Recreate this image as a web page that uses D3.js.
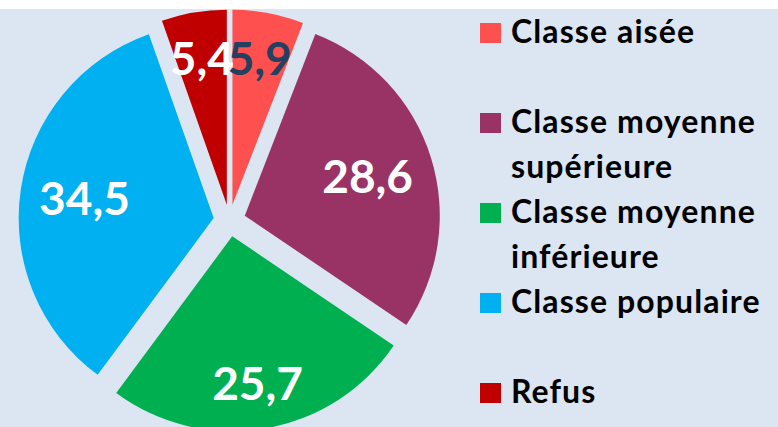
<!DOCTYPE html>
<html><head><meta charset="utf-8">
<script src="https://cdn.jsdelivr.net/npm/d3@7"></script>
<style>body{margin:0;background:#fff}svg{display:block}</style>
</head><body>
<svg id="chart" width="778" height="427"></svg>
<script>
const categories = ["Classe aisée", "Classe moyenne supérieure", "Classe moyenne inférieure", "Classe populaire", "Refus"];
const values = [5.9, 28.6, 25.7, 34.5, 5.4];
const valueLabels = ["5,9", "28,6", "25,7", "34,5", "5,4"];
const legendLines = [["Classe aisée"], ["Classe moyenne", "supérieure"], ["Classe moyenne", "inférieure"], ["Classe populaire"], ["Refus"]];

const colors = ["#ff5050", "#993366", "#00b050", "#00b0f0", "#c00000"];
const labelColors = ["#243f60", "#fff", "#fff", "#fff", "#fff"];
const labelRadiusFactor = [0.76, 0.66, 0.77, 0.67, 0.76];

const svg = d3.select("#chart");
svg.append("rect").attr("x", 0).attr("y", 9).attr("width", 778).attr("height", 418).attr("fill", "#dce6f2");

const cx = 229.5, cy = 220.5, R = 195, explode = 16;
const pie = d3.pie().sort(null).value(d => d)(values);
const arc = d3.arc().innerRadius(0).outerRadius(R);
const g = svg.append("g").attr("transform", `translate(${cx},${cy})`);

pie.forEach((p, i) => {
  const mid = (p.startAngle + p.endAngle) / 2;
  const dx = explode * Math.sin(mid), dy = -explode * Math.cos(mid);
  const sg = g.append("g").attr("transform", `translate(${dx},${dy})`);
  sg.append("path").attr("d", arc(p)).attr("fill", colors[i]);
});
pie.forEach((p, i) => {
  const mid = (p.startAngle + p.endAngle) / 2;
  const r = explode + R * labelRadiusFactor[i];
  g.append("text")
    .attr("x", r * Math.sin(mid)).attr("y", -r * Math.cos(mid))
    .attr("dy", "0.35em")
    .attr("text-anchor", "middle")
    .attr("font-family", "Lato, 'Open Sans', sans-serif")
    .attr("font-weight", "bold")
    .attr("font-size", 46)
    .attr("fill", labelColors[i])
    .text(valueLabels[i]);
});

const lg = svg.append("g");
const lineH = 45, firstBase = 43;
const slots = [0, 2, 4, 6, 8];
categories.forEach((c, i) => {
  const base = firstBase + slots[i] * lineH;
  lg.append("rect").attr("x", 480).attr("y", base - 20).attr("width", 21).attr("height", 20).attr("fill", colors[i]);
  legendLines[i].forEach((t, j) => {
    lg.append("text").attr("x", 511).attr("y", base + j * lineH)
      .attr("font-family", "Lato, 'Open Sans', sans-serif")
      .attr("font-weight", "bold").attr("font-size", 32)
      .attr("letter-spacing", "1.1px")
      .attr("fill", "#000").text(t);
  });
});
</script>
</body></html>
